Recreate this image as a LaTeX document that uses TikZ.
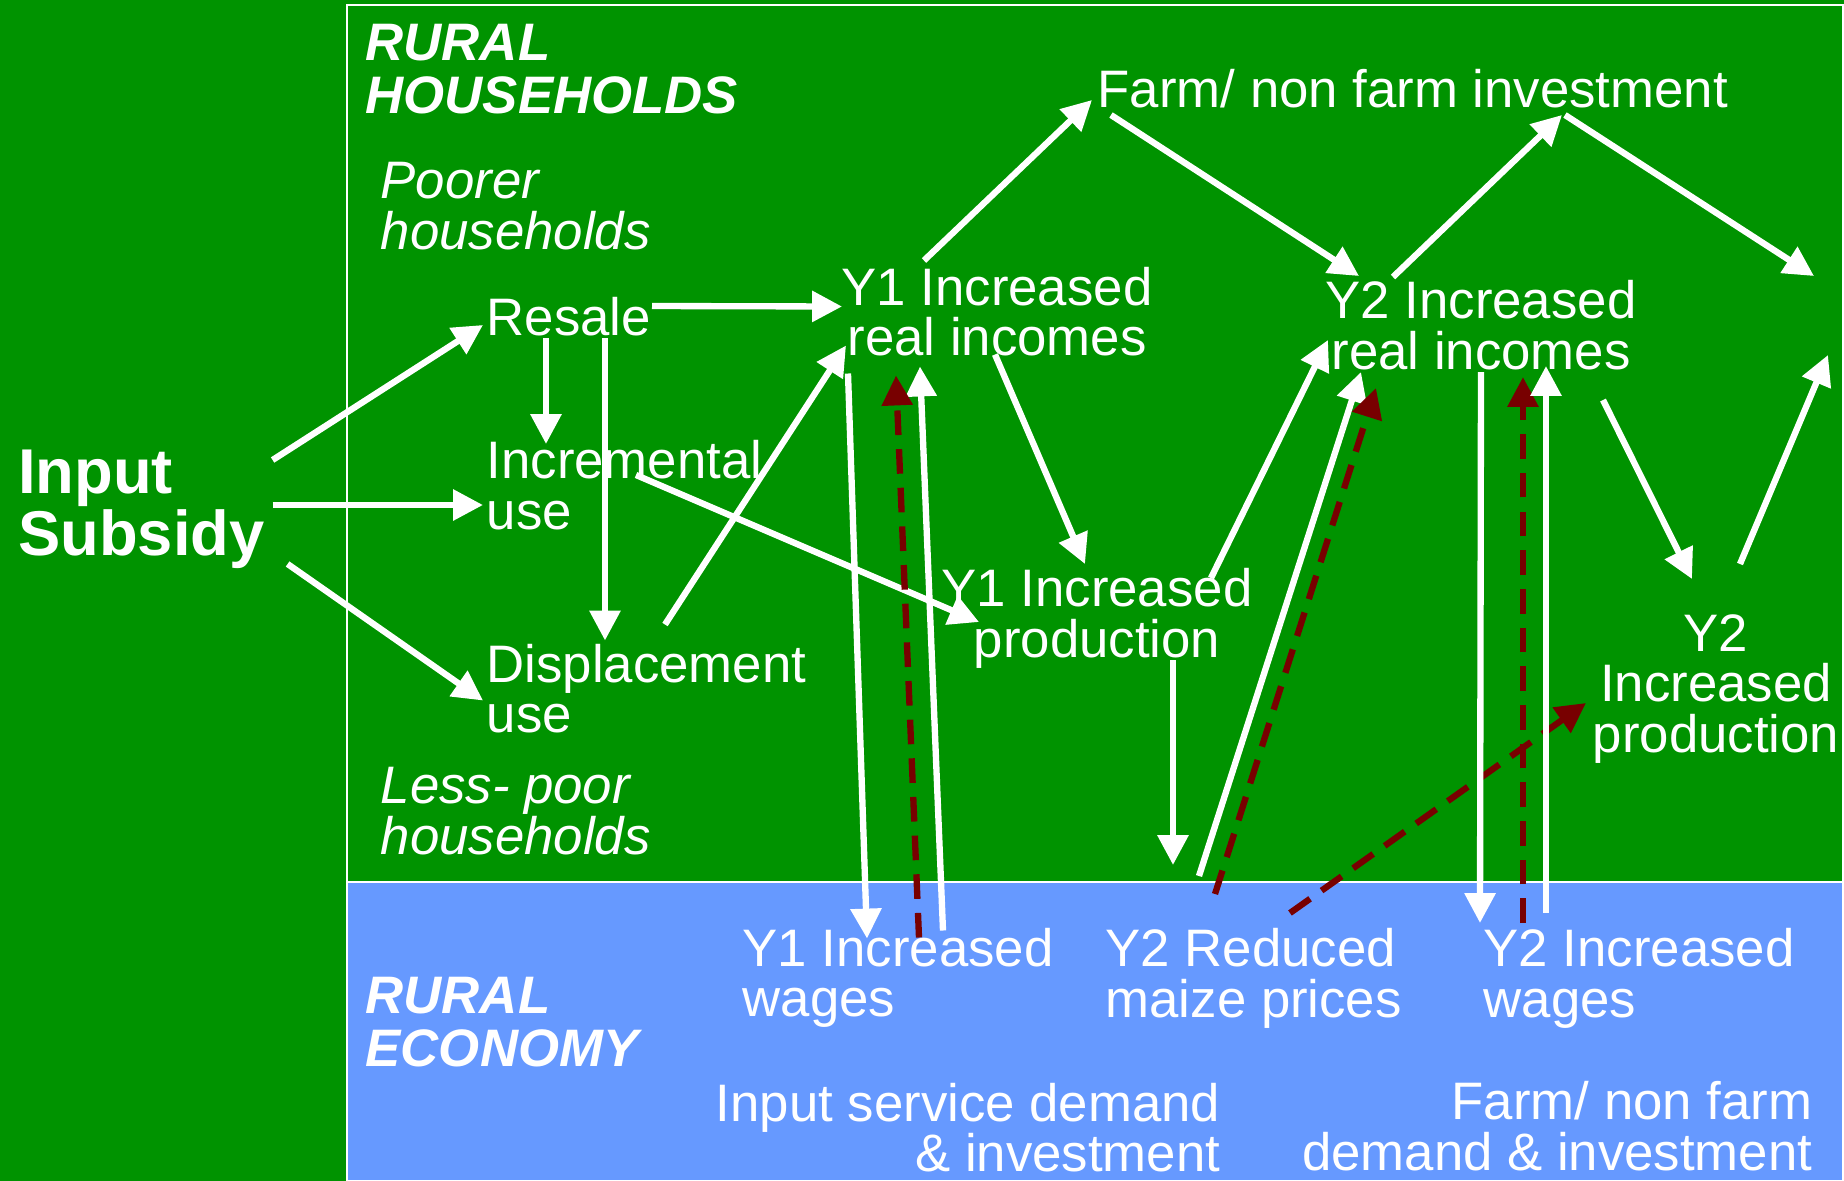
\documentclass[tikz,border=0pt]{standalone}
\usepackage{fontspec}
\setmainfont{Liberation Sans}
\usetikzlibrary{arrows.meta}

\definecolor{fieldgreen}{RGB}{0,147,0}
\definecolor{econblue}{RGB}{102,153,255}
\definecolor{darkmaroon}{RGB}{120,0,0}

\begin{document}
\begin{tikzpicture}[x=0.01cm,y=-0.01cm,
    txt/.style={text=white, inner sep=0pt, font=\fontsize{15}{14.3}\selectfont},
    lft/.style={txt, align=left, anchor=base west},
    ctr/.style={txt, align=center, anchor=base},
    rgt/.style={txt, align=right, anchor=base east},
    note/.style={lft, font=\fontsize{15}{14.3}\selectfont\itshape},
    head/.style={lft, font=\fontsize{15}{14.9}\selectfont\bfseries\itshape},
    flow/.style={draw=white, line width=1.8pt, -{Triangle[length=8.5pt,width=8.5pt]}},
    feed/.style={draw=darkmaroon, line width=1.8pt, dash pattern=on 7pt off 4pt,
                 -{Triangle[length=8.5pt,width=8.5pt]}}]
        % Panels
        \fill[fieldgreen] (0,0) rectangle (1844,1181);
        \useasboundingbox (0,0) rectangle (1844,1181);
        \draw[white, line width=0.6pt] (347,5) rectangle (1843,882);
        \filldraw[fill=econblue, draw=white, line width=0.6pt] (347,882) rectangle (1843,1181);

        % Nodes (placed on the baseline of their last line)
        \node[head] (hhlabel)  at (365,113)   {RURAL\\HOUSEHOLDS};
        \node[note] (poorer)   at (380,249)   {Poorer\\households};
        \node[note] (lesspoor) at (380,854)   {Less- poor\\households};
        \node[head] (eclabel)  at (365,1066)  {RURAL\\ECONOMY};

        \node[lft, font=\fontsize{18}{17.4}\selectfont\bfseries] (subsidy) at (17.6,555) {Input\\Subsidy};

        \node[lft] (resale)  at (486,335)   {Resale};
        \node[lft] (incr)    at (486,529)   {Incremental\\use};
        \node[lft] (displ)   at (486,732.5) {Displacement\\use};

        \node[ctr] (y1inc)   at (997,355.5) {Y1 Increased\\real incomes};
        \node[lft] (farminv) at (1097,107)  {Farm/ non farm investment};
        \node[ctr] (y2inc)   at (1481,369)  {Y2 Increased\\real incomes};
        \node[ctr] (y1prod)  at (1097,657)  {Y1 Increased\\production};
        \node[ctr] (y2prod)  at (1716,752)  {Y2\\Increased\\production};

        \node[lft] (y1wage)  at (742,1016.5) {Y1 Increased\\wages};
        \node[lft] (maize)   at (1105,1017)  {Y2 Reduced\\maize prices};
        \node[lft] (y2wage)  at (1483,1017)  {Y2 Increased\\wages};
        \node[rgt] (inputsvc) at (1221,1171.5) {Input service demand\\\& investment};
        \node[rgt] (farmdem)  at (1813,1170)   {Farm/ non farm\\demand \& investment};

        \coordinate (next1) at (1814,276);
        \coordinate (next2) at (1828,355);

        % Subsidy uses
        \draw[flow] ([shift={(255,-95)}]subsidy.base west) -- ([shift={(-3,-10)}]resale.base west);
        \draw[flow] ([shift={(255,-50)}]subsidy.base west) -- ([shift={(-3,-24)}]incr.base west);
        \draw[flow] ([shift={(270,9)}]subsidy.base west) -- ([shift={(-3,-32)}]displ.base west);
        \draw[flow] ([shift={(60,3)}]resale.base west) -- ([shift={(60,-85)}]incr.base west);
        \draw[flow] ([shift={(119,3)}]resale.base west) -- ([shift={(119,-92)}]displ.base west);

        % Year 1
        \draw[flow] ([shift={(166,-29)}]resale.base west) -- ([shift={(-155,-49)}]y1inc.base);
        \draw[flow] ([shift={(179,-108)}]displ.base west) -- ([shift={(-151,-10)}]y1inc.base);
        \draw[flow] ([shift={(150,-54)}]incr.base west) -- ([shift={(-118,-35)}]y1prod.base);
        \draw[flow] ([shift={(-149,18)}]y1inc.base) -- ([shift={(125,-78)}]y1wage.base west);
        \draw[flow] ([shift={(201,-86)}]y1wage.base west) -- ([shift={(-77,11)}]y1inc.base);
        \draw[feed] ([shift={(177,-79)}]y1wage.base west) -- ([shift={(-101,20)}]y1inc.base);
        \draw[flow] ([shift={(-73,-95)}]y1inc.base) -- ([shift={(-5,-7)}]farminv.base west);
        \draw[flow] ([shift={(-2,-1)}]y1inc.base) -- ([shift={(-12,-93)}]y1prod.base);
        \draw[flow] ([shift={(76,3)}]y1prod.base) -- ([shift={(68,-152)}]maize.base west);

        % Year 2
        \draw[flow] ([shift={(14,8)}]farminv.base west) -- ([shift={(-122,-93)}]y2inc.base);
        \draw[flow] ([shift={(-88,-92)}]y2inc.base) -- ([shift={(465,8)}]farminv.base west);
        \draw[flow] ([shift={(468,8)}]farminv.base west) -- (next1);
        \draw[flow] ([shift={(114,-79)}]y1prod.base) -- ([shift={(-153,-29)}]y2inc.base);
        \draw[flow] ([shift={(94,-141)}]maize.base west) -- ([shift={(-120,3)}]y2inc.base);
        \draw[feed] ([shift={(110,-123)}]maize.base west) -- ([shift={(-105,19)}]y2inc.base);
        \draw[feed] ([shift={(185,-104)}]maize.base west) -- ([shift={(-130,-49)}]y2prod.base);
        \draw[flow] ([shift={(0,3)}]y2inc.base) -- ([shift={(-3,-94)}]y2wage.base west);
        \draw[feed] ([shift={(40,-94)}]y2wage.base west) -- ([shift={(42,8)}]y2inc.base);
        \draw[flow] ([shift={(63,-104)}]y2wage.base west) -- ([shift={(65,-3)}]y2inc.base);
        \draw[flow] ([shift={(122,31)}]y2inc.base) -- ([shift={(-24,-173)}]y2prod.base);
        \draw[flow] ([shift={(24,-188)}]y2prod.base) -- (next2);
    \end{tikzpicture}
\end{document}
